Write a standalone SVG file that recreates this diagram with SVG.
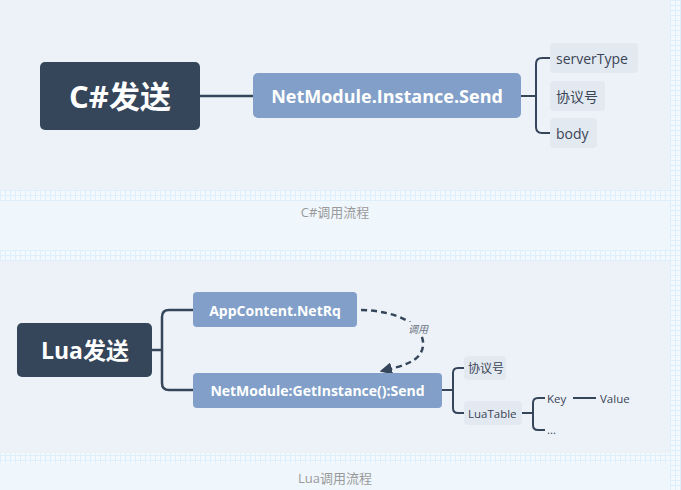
<svg xmlns="http://www.w3.org/2000/svg" width="681" height="490" viewBox="0 0 681 490">
<defs>
<pattern id="grid" width="5" height="5" patternUnits="userSpaceOnUse">
<rect width="5" height="5" fill="#f4f9fd"/>
<path d="M0,0.5H5M0.5,0V5" stroke="#ddeffa" stroke-width="1"/>
</pattern>
<marker id="arr" viewBox="0 0 10 10" refX="8" refY="5" markerWidth="5" markerHeight="5" orient="auto">
<path d="M0,0 L10,5 L0,10 z" fill="#35455a"/>
</marker>
<style>
.dark{fill:#35455a}
.blue{fill:#819fc8}
.leaf{fill:#e3e9f1}
.t{font-family:"Open Sans","Liberation Sans","Noto Sans CJK SC",sans-serif}
.tw{fill:#ffffff;font-weight:bold;text-anchor:middle;dominant-baseline:central}
.tl{fill:#3a4556;dominant-baseline:central}
.cap{fill:#9a9a9a;font-size:13px;text-anchor:middle;dominant-baseline:central}
.ln{fill:none;stroke:#35455a;stroke-width:2.5}
.ln2{fill:none;stroke:#35455a;stroke-width:2}
</style>
</defs>
<rect width="681" height="490" fill="url(#grid)"/>
<rect x="0" y="0" width="670" height="190" fill="#edf2f8"/>
<rect x="0" y="201" width="670" height="49" fill="#eff6fc"/>
<rect x="0" y="261" width="670" height="192" fill="#edf2f8"/>
<rect x="0" y="463" width="670" height="27" fill="#eff6fc"/>

<g id="connectors">
<path class="ln" d="M200,96 H253"/>
<path class="ln2" d="M521,96 H536"/>
<path class="ln2" d="M550,58 H542 Q536,58 536,64 V127 Q536,133 542,133 H550"/>
<path class="ln" d="M152,350 H162"/>
<path class="ln" d="M193,310 H169 Q162,310 162,317 V383 Q162,390 169,390 H193"/>
<path d="M361,310 C398,311 425,325 423,346 C421,362 402,366 382,371" fill="none" stroke="#35455a" stroke-width="2.5" stroke-dasharray="6,4" marker-end="url(#arr)"/>
<rect x="407" y="322" width="23" height="14" fill="#edf2f8"/>
<text class="t" x="418" y="329" font-size="10" font-style="italic" fill="#6b7380" text-anchor="middle" dominant-baseline="central">调用</text>
<path class="ln2" d="M442,390 H453"/>
<path class="ln2" d="M464,368 H458 Q453,368 453,373 V408 Q453,413 458,413 H464"/>
<path class="ln2" d="M522,413 H533"/>
<path class="ln2" d="M545,398 H538 Q533,398 533,403 V425 Q533,430 538,430 H545"/>
<path class="ln2" d="M573,398 H596" stroke-width="1.5"/>
</g>

<g id="cs-root"><rect class="dark" x="40" y="62" width="160" height="68" rx="5"/><text class="t tw" x="120" y="96" font-size="31">C#发送</text></g>
<g id="cs-send"><rect class="blue" x="253" y="73" width="268" height="45" rx="5"/><text class="t tw" x="387" y="96" font-size="18">NetModule.Instance.Send</text></g>
<g id="cs-servertype"><rect class="leaf" x="550" y="43" width="88" height="30" rx="4"/><text class="t tl" x="556" y="58" font-size="14">serverType</text></g>
<g id="cs-proto"><rect class="leaf" x="550" y="81" width="55" height="30" rx="4"/><text class="t tl" x="556" y="96" font-size="14">协议号</text></g>
<g id="cs-body"><rect class="leaf" x="550" y="118" width="47" height="30" rx="4"/><text class="t tl" x="556" y="133" font-size="14">body</text></g>
<text class="t cap" x="335" y="212">C#调用流程</text>

<g id="lua-root"><rect class="dark" x="17" y="323" width="135" height="54" rx="5"/><text class="t tw" x="85" y="350" font-size="23">Lua发送</text></g>
<g id="lua-netrq"><rect class="blue" x="193" y="292" width="164" height="35" rx="4"/><text class="t tw" x="275" y="310" font-size="14">AppContent.NetRq</text></g>
<g id="lua-send"><rect class="blue" x="193" y="373" width="249" height="35" rx="4"/><text class="t tw" x="317.5" y="390" font-size="14">NetModule:GetInstance():Send</text></g>
<g id="lua-proto"><rect class="leaf" x="464" y="356" width="42" height="24" rx="4"/><text class="t tl" x="468" y="368" font-size="12">协议号</text></g>
<g id="lua-table"><rect class="leaf" x="464" y="401" width="58" height="24" rx="4"/><text class="t tl" x="468" y="413" font-size="11.5">LuaTable</text></g>
<g id="lua-key"><text class="t tl" x="547" y="398" font-size="11.5">Key</text></g>
<g id="lua-value"><text class="t tl" x="600" y="398" font-size="11.5">Value</text></g>
<g id="lua-more"><text class="t tl" x="547" y="429" font-size="11.5">...</text></g>
<text class="t cap" x="335" y="478">Lua调用流程</text>
</svg>
